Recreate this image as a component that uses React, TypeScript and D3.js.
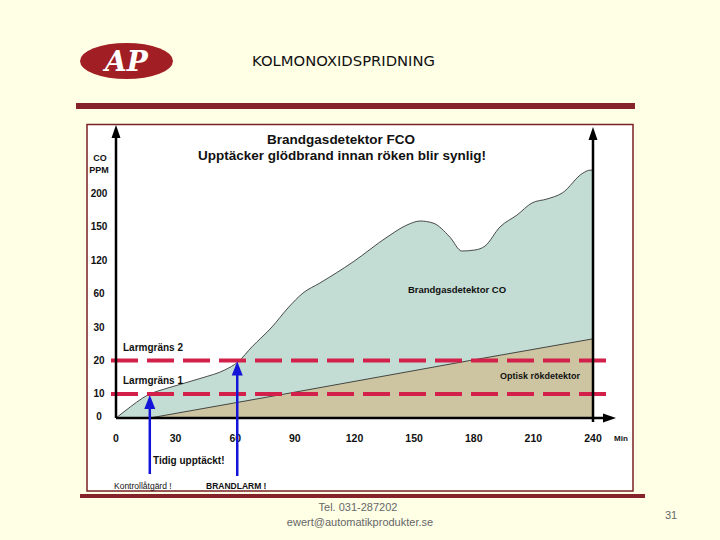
import React from "react";
import * as d3 from "d3";

// x: minutes, y: CO ppm (the original uses an uneven ppm axis)
const timeTicks = [0, 30, 60, 90, 120, 150, 180, 210, 240];
const ppmTicks = [0, 10, 20, 30, 60, 120, 150, 200];

const coMinutes = [0, 4.5, 16.1, 26.2, 43.3, 54.8, 61.4, 68.4, 78.5, 86.5, 94.1, 102.6, 119.2, 136.4, 146.4, 153, 159.5, 168, 174, 180.6, 185.7, 193.2, 201.8, 209.3, 216.9, 224.5, 235, 238.5, 240];
const coPpm = [0, 2.9, 9.6, 11.8, 14.8, 17.2, 19.6, 24.1, 30.2, 47.2, 61.4, 79.3, 117, 140.9, 152.9, 158.9, 155.9, 140.9, 128.4, 129.3, 132.9, 150, 167.9, 185.9, 191.9, 200.8, 230.8, 235, 235];

const smokeMinutes = [17, 85, 178, 240];
const smokePpm = [0, 10, 20, 26.5];

const alarmLevels = [10, 20];
const alarmLabels = ["Larmgräns 1", "Larmgräns 2"];
const detectMinutes = [17, 61];

const sans = "'Liberation Sans', Arial, sans-serif";

export default function App() {
  const baseY = 418;
  const step = 33.4;
  const x = d3.scaleLinear().domain([0, 240]).range([116, 593]);
  const y = d3
    .scaleLinear()
    .domain(ppmTicks)
    .range(ppmTicks.map((_, i) => baseY - (i === 0 ? 0 : i - 0.28) * step));

  const coPts: [number, number][] = coMinutes.map((t, i) => [t, coPpm[i]]);
  const smokePts: [number, number][] = smokeMinutes.map((t, i) => [t, smokePpm[i]]);

  const coArea = d3
    .area<[number, number]>()
    .x((d) => x(d[0]))
    .y0(y(0))
    .y1((d) => y(d[1]))
    .curve(d3.curveMonotoneX);
  const coLine = d3
    .line<[number, number]>()
    .x((d) => x(d[0]))
    .y((d) => y(d[1]))
    .curve(d3.curveMonotoneX);
  const smokeArea = d3
    .area<[number, number]>()
    .x((d) => x(d[0]))
    .y0(y(0))
    .y1((d) => y(d[1]));
  const smokeLine = d3
    .line<[number, number]>()
    .x((d) => x(d[0]))
    .y((d) => y(d[1]));

  const left = x(0);
  const right = x(240);
  const top = 125;

  return (
    <svg
      width={720}
      height={540}
      style={{ position: "absolute", left: 0, top: 0, background: "#FFFFE6" }}
    >
      {/* header */}
      <ellipse cx={126.5} cy={61} rx={46.5} ry={18} fill="#A01E24" />
      <text
        x={126.5}
        y={71}
        textAnchor="middle"
        fill="#fff"
        fontFamily="'DejaVu Serif', serif"
        fontWeight="bold"
        fontStyle="italic"
        fontSize={28}
      >
        AP
      </text>
      <text
        x={252}
        y={66}
        fontFamily="'DejaVu Sans', sans-serif"
        fontSize={14}
        textLength={183}
        lengthAdjust="spacingAndGlyphs"
        fill="#111"
      >
        KOLMONOXIDSPRIDNING
      </text>
      <rect x={76} y={103} width={559} height={6} fill="#85222A" />

      {/* chart frame */}
      <rect x={87} y={124.5} width={546} height={366.5} fill="#fff" stroke="#7A2125" strokeWidth={1.5} />
      <rect x={80} y={494} width={565} height={4} fill="#85222A" />

      {/* areas */}
      <path d={coArea(coPts) ?? ""} fill="#C3DCD4" />
      <path d={smokeArea(smokePts) ?? ""} fill="#CDC5A2" />
      <path d={coLine(coPts) ?? ""} fill="none" stroke="#222" strokeWidth={0.8} />
      <path d={smokeLine(smokePts) ?? ""} fill="none" stroke="#222" strokeWidth={0.8} />

      {/* alarm thresholds */}
      {alarmLevels.map((lv, i) => (
        <g key={lv}>
          <line
            x1={111}
            x2={612}
            y1={y(lv)}
            y2={y(lv)}
            stroke="#D2204A"
            strokeWidth={4}
            strokeDasharray="27 9"
          />
          <text x={123} y={y(lv) - 10} fontFamily={sans} fontWeight="bold" fontSize={10} fill="#111">
            {alarmLabels[i]}
          </text>
        </g>
      ))}

      {/* axes */}
      <g stroke="#000" strokeWidth={2.5}>
        <line x1={left} x2={left} y1={baseY} y2={top + 8} />
        <line x1={right} x2={right} y1={baseY + 4} y2={top + 10} />
        <line x1={left} x2={608} y1={baseY} y2={baseY} />
      </g>
      <path d={`M${left},${top} l-4.5,13 l9,0 Z`} fill="#000" />
      <path d={`M${right},${top + 2} l-4.5,13 l9,0 Z`} fill="#000" />
      <path d={`M616,${baseY} l-13,-4.5 l0,9 Z`} fill="#000" />

      {/* y ticks */}
      <text x={100} y={161} textAnchor="middle" fontFamily={sans} fontWeight="bold" fontSize={9} fill="#111">
        CO
      </text>
      <text x={99} y={173} textAnchor="middle" fontFamily={sans} fontWeight="bold" fontSize={9} fill="#111">
        PPM
      </text>
      {ppmTicks.map((v) => (
        <text
          key={v}
          x={99}
          y={y(v) - (v === 0 ? 2 : 0)}
          dy="0.35em"
          textAnchor="middle"
          fontFamily={sans}
          fontWeight="bold"
          fontSize={10}
          fill="#111"
        >
          {v}
        </text>
      ))}

      {/* x ticks */}
      {timeTicks.map((t) => (
        <text
          key={t}
          x={x(t)}
          y={438}
          dy="0.35em"
          textAnchor="middle"
          fontFamily={sans}
          fontWeight="bold"
          fontSize={10.5}
          fill="#111"
        >
          {t}
        </text>
      ))}
      <text x={614} y={438} dy="0.35em" fontFamily={sans} fontWeight="bold" fontSize={8} fill="#111">
        Min
      </text>

      {/* detection arrows */}
      {detectMinutes.map((t, i) => {
        const tipY = y(alarmLevels[i]) + 1;
        return (
          <g key={t}>
            <line x1={x(t)} x2={x(t)} y1={474 + i * 2} y2={tipY + 10} stroke="#1414D8" strokeWidth={2.5} />
            <path d={`M${x(t)},${tipY} l-5.5,14 l11,0 Z`} fill="#1414D8" />
          </g>
        );
      })}

      {/* titles & labels */}
      <g fontFamily={sans} fontWeight="bold" fill="#111">
        <text x={341} y={139} dy="0.35em" textAnchor="middle" fontSize={13.5}>
          Brandgasdetektor FCO
        </text>
        <text x={342} y={155} dy="0.35em" textAnchor="middle" fontSize={13.5}>
          Upptäcker glödbrand innan röken blir synlig!
        </text>
        <text x={457} y={290} dy="0.35em" textAnchor="middle" fontSize={9.5}>
          Brandgasdetektor CO
        </text>
        <text x={540} y={376} dy="0.35em" textAnchor="middle" fontSize={9}>
          Optisk rökdetektor
        </text>
        <text x={153} y={460} dy="0.35em" fontSize={10}>
          Tidig upptäckt!
        </text>
        <text x={114} y={486} dy="0.35em" fontSize={8.5} fontWeight="normal">
          Kontrollåtgärd !
        </text>
        <text x={206} y={486} dy="0.35em" fontSize={8.5}>
          BRANDLARM !
        </text>
      </g>

      {/* footer */}
      <g fontFamily={sans} fontSize={11} fill="#666" textAnchor="middle">
        <text x={358} y={511}>Tel. 031-287202</text>
        <text x={360} y={526}>ewert@automatikprodukter.se</text>
        <text x={671} y={519}>31</text>
      </g>
    </svg>
  );
}
